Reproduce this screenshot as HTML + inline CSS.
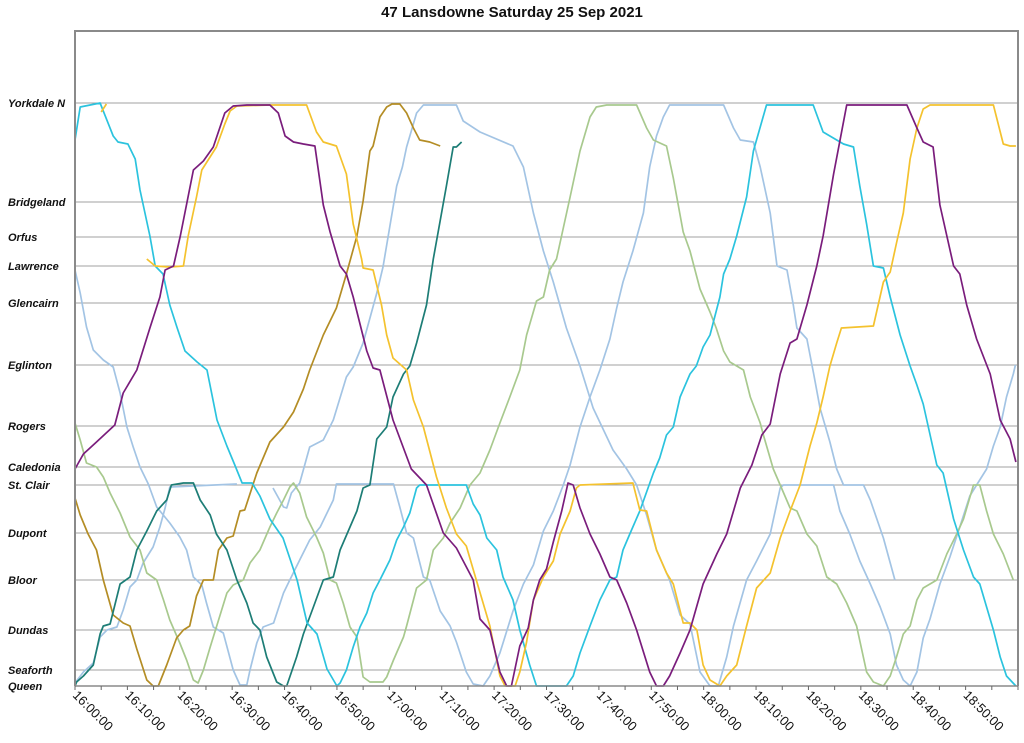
<!DOCTYPE html>
<html><head><meta charset="utf-8"><style>
html,body{margin:0;padding:0;background:#fff;}
svg{display:block;font-family:"Liberation Sans",Arial,sans-serif;}
</style></head><body>
<svg id="chart" width="1024" height="743" viewBox="0 0 1024 743" xmlns="http://www.w3.org/2000/svg">
<text x="512" y="17" text-anchor="middle" font-size="15" font-weight="bold" fill="#111">47 Lansdowne Saturday 25 Sep 2021</text>
<g id="grid"></g>
<g id="series"></g>
<g id="axes"></g>
</svg>
<script>
const stationNames = ["Yorkdale N","Bridgeland","Orfus","Lawrence","Glencairn","Eglinton","Rogers","Caledonia","St. Clair","Dupont","Bloor","Dundas","Seaforth","Queen"];
const stationPos = [583,484,449,420,383,321,260,219,201,153,106,56,16,0];
const tickMinutes = [0,10,20,30,40,50,60,70,80,90,100,110,120,130,140,150,160,170];
const tickLabels = ["16:00:00","16:10:00","16:20:00","16:30:00","16:40:00","16:50:00","17:00:00","17:10:00","17:20:00","17:30:00","17:40:00","17:50:00","18:00:00","18:10:00","18:20:00","18:30:00","18:40:00","18:50:00"];

const purpleTrip = [[0,217],[1.6,232],[4.1,244],[7.6,261],[9.2,293],[11.8,316],[14.3,358],[16.2,389],[17.2,416],[18.8,420],[20.1,450],[22.6,516],[24.5,525],[26.4,539],[28.6,573],[30.2,580],[32.8,581],[37.2,581],[38.8,573],[40.1,550],[41.7,544],[43.6,542],[45.8,540],[47.4,481],[48.7,454],[50.6,420],[51.8,412],[53.1,389],[55.7,335],[56.9,318],[58.2,316],[60.7,266],[64.2,217],[67.1,201],[70.3,153],[72.8,138],[76,106],[77.3,67],[79.2,56],[81.1,14],[82.4,0],[83.3,0],[84.9,40],[86.5,58],[87.5,86],[88.7,106],[90,117],[91.3,144],[92.9,175],[94.1,203],[95.1,201],[96.4,178],[98.3,152],[100.2,132],[102.1,109],[103.4,106],[105.3,83],[107.2,56],[109.7,14],[111,0],[112.3,0],[113.5,10],[115.5,33],[117.4,56],[119.9,102],[122.5,132],[124.4,152],[127,198],[129.2,221],[131.1,251],[132.7,262],[134.6,312],[136.5,343],[137.8,347],[139.7,381],[141.6,420],[142.8,450],[144.8,512],[147.3,581],[150.5,581],[158.8,581],[160.7,558],[161.9,544],[163.8,539],[165.1,481],[167.7,420],[168.9,412],[170.2,381],[172.1,347],[174.7,312],[176.6,266],[178.5,247],[179.6,224]];

const yellowTrip = [[13.7,427],[15.3,420],[18.1,419],[20.7,420],[21.6,450],[23.2,489],[24.2,516],[27,539],[28.6,562],[29.6,575],[30.9,580],[37.2,581],[44.2,581],[46.1,554],[47.4,544],[49.9,540],[51.8,512],[53.1,462],[54.7,427],[55,418],[56.9,416],[58.5,381],[59.5,351],[60.7,328],[63.3,316],[64.6,286],[66.5,259],[69,209],[70.9,178],[72.8,152],[74.7,140],[76.6,106],[79.2,60],[81.1,10],[82.1,0],[84,0],[84.9,14],[86.2,44],[87.5,86],[89.4,109],[91.3,125],[92.6,152],[94.5,175],[95.7,198],[96.4,201],[106.5,203],[107.8,176],[109.1,175],[111,136],[112.9,113],[114.2,102],[116.1,63],[117.4,63],[118.7,56],[119.9,21],[121.2,6],[123.1,0],[124.4,10],[126.3,21],[128.2,60],[130.1,98],[132.7,113],[134.6,148],[136.5,175],[138.4,201],[140.3,240],[141.6,263],[142.8,289],[144.1,320],[145.4,343],[146.3,358],[152.4,360],[154.3,404],[155.6,414],[156.8,443],[158.1,473],[159.4,527],[160.7,558],[161.9,577],[163.2,581],[175.3,581],[177.2,542],[178.5,540],[179.6,540]];
const yellowStub = [[5.0,574],[6.0,582]];

const goldTrip = [[0,188],[1,171],[2.5,152],[4.1,136],[5.4,106],[7.3,71],[9.2,63],[10.5,60],[11.8,37],[13.7,6],[14.9,0],[15.9,0],[17.5,21],[19.4,48],[20.7,56],[21.9,60],[23.2,90],[24.5,106],[26.4,106],[27.4,136],[29,148],[30.2,150],[31.5,175],[32.4,176],[34.7,213],[37.2,244],[39.8,259],[41.7,274],[43.6,297],[44.8,316],[47.4,351],[49.9,378],[51.8,412],[53.8,450],[55,485],[56.3,535],[56.9,540],[58.2,569],[59.5,579],[60.5,582],[62,582],[63.3,573],[64.6,558],[65.8,546],[67.7,544],[69.7,540]];

const tealTrip = [[0,0],[0.3,4],[1.6,10],[3.5,21],[4.8,52],[5.4,60],[6.7,62],[8.6,102],[10.5,109],[11.8,136],[13.7,155],[15.6,175],[17.5,186],[18.4,201],[20.7,203],[22.6,203],[23.9,186],[25.8,171],[27,152],[29,136],[30.9,106],[32.8,83],[34,63],[35.3,56],[36.6,29],[38.5,4],[39.8,0],[40.4,0],[42.3,29],[43.6,52],[45.5,79],[47.4,106],[49.3,109],[50.6,136],[52.5,159],[53.8,175],[55,198],[56.3,201],[57.6,247],[59.5,259],[60.7,289],[62.7,312],[63.9,320],[65.2,343],[67.1,381],[68.4,427],[70.9,500],[72.2,539],[72.8,539],[73.8,544]];

const cyanTrip = [[0,546],[1,579],[4.8,583],[7.3,550],[8.2,544],[10.1,542],[11.5,527],[12.4,496],[14.3,450],[15.3,420],[16.8,412],[18.1,381],[19.5,358],[21,335],[23.3,324],[25.2,316],[27.1,266],[29,240],[30.5,221],[31.9,203],[33.8,203],[35.3,190],[37.2,167],[39.7,148],[42.4,106],[44.3,63],[46.2,52],[48.1,17],[50,0],[50.6,3],[51.8,16],[53.1,39],[54.4,59],[55.7,73],[56.9,93],[58.2,106],[60.1,126],[61.4,146],[62.7,159],[63.9,173],[65.2,198],[65.8,201],[74.7,201],[76,182],[77.3,171],[78.6,148],[80.5,136],[81.7,109],[83.6,86],[84.9,56],[86.8,21],[88.1,0],[93.8,0],[95.1,10],[96.4,33],[98.3,60],[100.2,86],[102.1,106],[103.4,109],[104.6,136],[105.9,152],[107.8,175],[109.1,194],[110.4,213],[111.6,228],[112.9,251],[114.2,259],[115.5,289],[117.4,312],[118.6,320],[119.9,339],[121.2,351],[123.1,389],[123.8,412],[125,427],[126.3,450],[128.2,489],[129.5,535],[132,581],[140.9,581],[142.8,554],[144.1,550],[146.7,542],[148.6,539],[149.8,500],[151.1,462],[152.4,420],[154.3,418],[155.6,389],[157.5,351],[159.4,320],[160.7,301],[161.9,282],[164.5,221],[165.7,213],[167.7,167],[169.6,136],[171.5,109],[172.7,102],[174,79],[175.3,56],[176.6,29],[177.8,10],[179.6,0]];

const lightBlueTripA = [[0,416],[1,393],[2.2,359],[3.5,336],[5.4,326],[7.3,319],[8.6,293],[9.9,259],[11.1,239],[12.4,219],[14,202],[15.6,179],[18.1,163],[20,149],[21.3,136],[22.6,109],[24.2,101],[25.1,83],[26.4,59],[28.3,53],[30.2,16],[31.5,1],[32.8,1],[33.4,16],[34.7,43],[35.9,59],[37.9,63],[39.8,93],[41,106],[42.9,126],[44.8,146],[46.8,159],[49.3,186],[49.9,202],[60.8,202],[62,179],[63.3,153],[64.6,148],[66.5,109],[67.7,106],[69.7,75],[71.6,60],[72.8,44],[74.7,14],[76,2],[77.9,0],[79.2,10],[81.1,33],[83.6,75],[85.6,102],[87.5,121],[89.4,155],[91.3,175],[93.2,201],[94.5,221],[96.4,259],[98.3,289],[100.2,316],[102.1,347],[103.4,378],[104.6,404],[106.5,435],[108.5,473],[109.7,519],[111,550],[112.3,569],[113.5,581],[123.8,581],[125.7,558],[127,546],[129.5,544],[130.8,519],[132.7,473],[134,420],[135.9,416],[137.1,381],[137.8,358],[139.7,347],[141,312],[142.2,278],[144.1,244],[145.4,217],[146.7,201],[150.5,201],[151.8,186],[154.3,148],[156.5,106]];
const lightBlueTripB = [[0,3],[1.6,14],[3.5,23],[4.8,49],[6.1,56],[8,59],[9.2,76],[10.5,99],[11.8,106],[13,123],[14.9,139],[16.2,159],[17.2,178],[18.1,199],[30.9,202]];
const lightBlueTripC = [[37.8,198],[39.8,179],[40.4,178],[41.3,193],[42.9,203],[44.8,239],[47.4,246],[49.3,266],[51.8,309],[53.1,319],[55,343],[57.6,393],[58.8,419],[60.1,460],[61.4,500],[62.5,519],[63.3,539],[65.2,573],[66.5,581],[72.8,581],[74.1,565],[77.3,554],[83.6,540],[85.6,519],[87.5,473],[89.4,435],[91.3,404],[93.8,358],[96.4,320],[98.9,278],[102.7,236],[105.3,217],[107.2,201],[109.1,171],[111,136],[113.5,106],[115.5,71],[117.4,62],[119.3,14],[121.2,0],[122.8,0],[124.4,29],[125.7,60],[128.2,106],[130.1,125],[132.7,152],[134.6,198],[135.2,201],[144.8,201],[146,175],[147.9,152],[149.8,125],[151.8,102],[153.7,79],[155.6,52],[156.8,21],[158.1,6],[159.4,0],[160.7,14],[161.9,48],[163.2,67],[165.1,102],[167,129],[168.9,159],[170.8,190],[172.1,201],[174,217],[175.3,240],[176.6,259],[177.8,289],[179.1,312],[179.5,321]];

const greenTrip = [[0,263],[1,246],[2.2,223],[4.1,219],[5.4,209],[6.7,193],[8.6,173],[10.5,149],[12.4,136],[13.7,113],[15.6,106],[16.9,86],[18.1,66],[20,43],[21.3,26],[22.6,6],[23.5,3],[24.5,16],[25.8,39],[27,59],[29,93],[30.2,101],[32.1,106],[33.4,123],[35.3,136],[37.2,159],[38.5,173],[39.8,186],[41,199],[41.7,203],[42.9,193],[44.2,169],[46.1,149],[47.4,133],[48.7,106],[49.9,103],[51.2,83],[52.5,59],[53.8,49],[55,9],[56.3,4],[58.8,4],[59.5,9],[60.8,26],[62.7,49],[63.3,60],[65.2,98],[67.1,106],[68.4,136],[70.3,148],[71.6,163],[73.5,178],[75.4,201],[77.3,213],[79.2,236],[81.1,263],[83,289],[84.9,316],[86.2,351],[88.1,385],[89.4,389],[90.6,416],[91.9,427],[93.2,458],[94.5,489],[96.4,535],[98.3,569],[99.5,579],[101.5,581],[107.2,581],[109.1,558],[110.4,546],[112.9,540],[114.2,508],[116.1,454],[117.4,435],[119.3,397],[121.2,374],[122.4,358],[123.8,335],[125,324],[127.6,316],[128.9,289],[130.8,263],[131.4,251],[133.3,217],[134.6,201],[136.5,178],[137.8,175],[139.7,152],[141.6,140],[143.5,109],[145.4,102],[147.3,83],[149.2,60],[151.1,14],[152.4,4],[154.3,0],[155.6,10],[156.8,29],[158.1,52],[159.4,60],[160.7,86],[161.9,98],[164.5,106],[166.4,132],[168.3,152],[169.6,167],[171.5,201],[172.7,201],[174,175],[175.3,152],[177.2,132],[179.1,106]];

const NS = "http://www.w3.org/2000/svg";
const plotL = 75, plotR = 1018, plotT = 31, plotB = 686;
const xMin = 0, xMax = 180, yMin = 0, yMax = 655;
function xScale(m){ return plotL + (m - xMin) / (xMax - xMin) * (plotR - plotL); }
function yScale(p){ return plotB - (p - yMin) / (yMax - yMin) * (plotB - plotT); }
function mk(tag, attrs, parent){ const e = document.createElementNS(NS, tag); for (const k in attrs) e.setAttribute(k, attrs[k]); parent.appendChild(e); return e; }

const grid = document.getElementById('grid');
const axes = document.getElementById('axes');
const seriesG = document.getElementById('series');

stationPos.forEach((p, i) => {
  const y = yScale(p);
  const gl = mk('line', {x1: plotL, x2: plotR, y1: y, y2: y, stroke: '#a0a0a0', 'stroke-width': 1}, grid);
  
  
  const t = mk('text', {x: 8, y: y + 4, 'font-size': 11, 'font-weight': 'bold', 'font-style': 'italic', fill: '#111'}, axes);
  t.textContent = stationNames[i];
  
  
});

const frame = mk('path', {d: `M${plotL},${plotB} L${plotL},${plotT} L${plotR},${plotT} L${plotR},${plotB}`, fill: 'none', stroke: '#8a8a8a', 'stroke-width': 2}, axes);


const xAxis = mk('line', {x1: plotL, x2: plotR, y1: plotB, y2: plotB, stroke: '#8a8a8a', 'stroke-width': 1.5}, axes);



for (let m = 0; m <= 180; m += 5) {
  const x = xScale(m);
  const tk = mk('line', {x1: x, x2: x, y1: plotB, y2: plotB + 4, stroke: '#666', 'stroke-width': 1}, axes);
  
  
}
tickMinutes.forEach((m, i) => {
  const x = xScale(m);
  const t = mk('text', {x: 0, y: 0, 'font-size': 13, fill: '#111', transform: `translate(${x - 3},${plotB + 10}) rotate(45)`}, axes);
  t.textContent = tickLabels[i];
  
  
});

function drawTrip(data, color, name){
  const d = data.map((pt, i) => (i ? 'L' : 'M') + xScale(pt[0]).toFixed(1) + ',' + yScale(pt[1]).toFixed(1)).join(' ');
  const p = mk('path', {d: d, fill: 'none', stroke: color, 'stroke-width': 1.7, 'stroke-linejoin': 'round'}, seriesG);
  
  
}
drawTrip(lightBlueTripA, '#a3c4e4', 'trip-light-blue-a');
drawTrip(lightBlueTripB, '#a3c4e4', 'trip-light-blue-b');
drawTrip(lightBlueTripC, '#a3c4e4', 'trip-light-blue-c');
drawTrip(greenTrip, '#a8c98e', 'trip-green');
drawTrip(goldTrip, '#b48d25', 'trip-gold');
drawTrip(tealTrip, '#1d7d76', 'trip-teal');
drawTrip(cyanTrip, '#2bc3de', 'trip-cyan');
drawTrip(yellowTrip, '#f4c22e', 'trip-yellow');
drawTrip(yellowStub, '#f4c22e', 'trip-yellow-stub');
drawTrip(purpleTrip, '#7a1d7c', 'trip-purple');
</script>
</body></html>
